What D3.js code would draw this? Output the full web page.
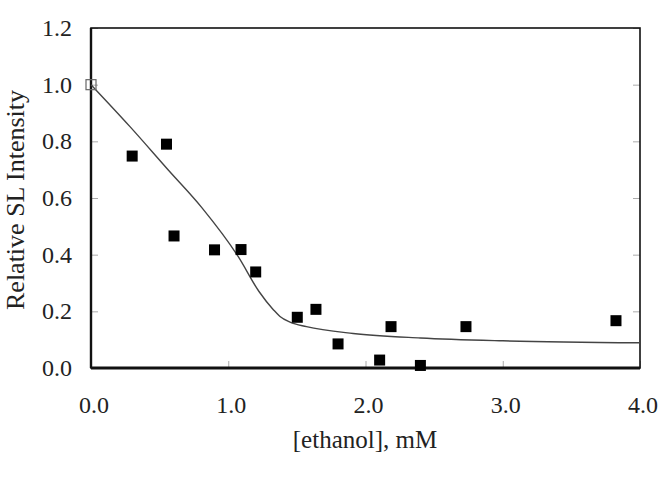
<!DOCTYPE html>
<html>
<head>
<meta charset="utf-8">
<script src="https://cdn.jsdelivr.net/npm/d3@7"></script>
<style>
  body { margin: 0; background: #fff; }
  text { font-family: "Liberation Serif", "Times New Roman", serif; fill: #222; }
</style>
</head>
<body>
<div class="chart"></div>
<script>
// measured points
const ethanol = [0.30, 0.55, 0.605, 0.90, 1.093, 1.20, 1.503, 1.639, 1.80, 2.103, 2.186, 2.40, 2.732, 3.825]
const intensity = [0.748, 0.79, 0.466, 0.417, 0.418, 0.339, 0.179, 0.207, 0.085, 0.028, 0.146, 0.009, 0.146, 0.167]

// reference (open) point
const refX = [0]
const refY = [1.0]

// fitted curve
const fitX = [0, 0.284, 0.563, 0.806, 1.073, 1.224, 1.33, 1.377, 1.45, 1.57, 1.91, 2.4, 3.0, 4.0]
const fitY = [1.0, 0.852, 0.699, 0.567, 0.393, 0.27, 0.205, 0.182, 0.162, 0.146, 0.122, 0.106, 0.096, 0.089]

const xTicks = [0, 1, 2, 3, 4]
const yTicks = [0, 0.2, 0.4, 0.6, 0.8, 1.0, 1.2]

const W = 661, H = 486
const margin = {left: 91, right: 21, top: 28, bottom: 118}
const width = W - margin.left - margin.right,
      height = H - margin.top - margin.bottom

const svg = d3.select(".chart").append("svg")
  .attr("width", W)
  .attr("height", H)

const g = svg.append("g")
  .attr("transform", `translate(${margin.left},${margin.top})`)

const xs = d3.scaleLinear().domain([0, 4]).range([0, width])
const ys = d3.scaleLinear().domain([0, 1.2]).range([height, 0])

// inward ticks (all sides)
const tk = 7
g.append("g").call(d3.axisBottom(xs).tickValues(xTicks).tickSize(-tk).tickFormat(""))
  .attr("transform", `translate(0,${height})`)
  .call(a => a.select(".domain").remove())
  .selectAll("line").attr("stroke", "#aaa")
g.append("g").call(d3.axisLeft(ys).tickValues(yTicks).tickSize(-tk).tickFormat(""))
  .call(a => a.select(".domain").remove())
  .selectAll("line").attr("stroke", "#aaa")
g.append("g").call(d3.axisLeft(ys).tickValues(yTicks).tickSize(tk).tickFormat(""))
  .attr("transform", `translate(${width},0)`)
  .call(a => a.select(".domain").remove())
  .selectAll("line").attr("stroke", "#aaa")

// tick labels
g.selectAll(".xl").data(xTicks).join("text")
  .attr("class", "xl")
  .attr("x", d => xs(d) + 3)
  .attr("y", height + 45)
  .attr("text-anchor", "middle")
  .style("font-size", "24px")
  .text(d => d.toFixed(1))

g.selectAll(".yl").data(yTicks).join("text")
  .attr("class", "yl")
  .attr("x", -19)
  .attr("y", d => ys(d) + 8)
  .attr("text-anchor", "end")
  .style("font-size", "24px")
  .text(d => d.toFixed(1))

// frame
g.append("rect")
  .attr("width", width).attr("height", height)
  .attr("fill", "none").attr("stroke", "#111").attr("stroke-width", 1.6)
g.append("line").attr("x1", 0).attr("x2", 0).attr("y1", 0).attr("y2", height)
  .attr("stroke", "#111").attr("stroke-width", 2.4)
g.append("line").attr("x1", 0).attr("x2", width).attr("y1", height).attr("y2", height)
  .attr("stroke", "#111").attr("stroke-width", 2.8)

// curve
const fit = fitX.map((x, i) => [x, fitY[i]])
g.append("path")
  .datum(fit)
  .attr("d", d3.line().x(d => xs(d[0])).y(d => ys(d[1])).curve(d3.curveMonotoneX))
  .attr("fill", "none")
  .attr("stroke", "#444")
  .attr("stroke-width", 1.4)

// data squares
const sz = 11
const pts = ethanol.map((x, i) => [x, intensity[i]])
g.selectAll(".pt").data(pts).join("rect")
  .attr("class", "pt")
  .attr("x", d => xs(d[0]) - sz / 2)
  .attr("y", d => ys(d[1]) - sz / 2)
  .attr("width", sz).attr("height", sz)
  .attr("fill", "#000")

g.selectAll(".ref").data(refX.map((x, i) => [x, refY[i]])).join("rect")
  .attr("class", "ref")
  .attr("x", d => xs(d[0]) - 5)
  .attr("y", d => ys(d[1]) - 5)
  .attr("width", 10).attr("height", 10)
  .attr("fill", "none").attr("stroke", "#666").attr("stroke-width", 1.2)

// axis titles
svg.append("text")
  .attr("x", 365)
  .attr("y", 448)
  .attr("text-anchor", "middle")
  .style("font-size", "25px")
  .text("[ethanol], mM")

svg.append("text")
  .attr("transform", "translate(24,200) rotate(-90)")
  .attr("text-anchor", "middle")
  .style("font-size", "26px")
  .text("Relative SL Intensity")
</script>
</body>
</html>
